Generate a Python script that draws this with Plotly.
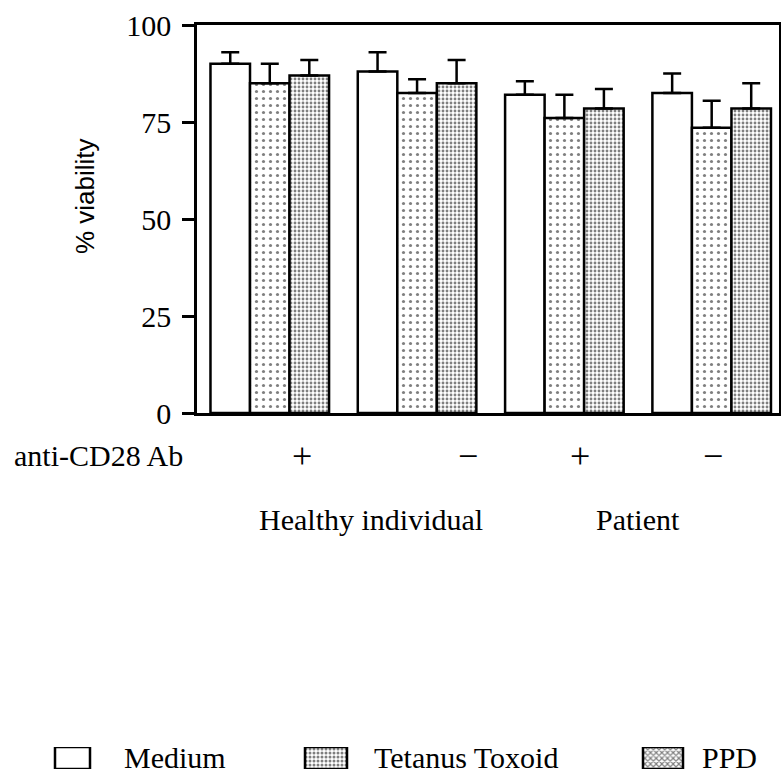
import plotly.graph_objects as go

# Cell viability (% of cells) per culture condition
groups = ["Healthy +", "Healthy −", "Patient +", "Patient −"]
medium = [90, 88, 82, 82.5]
medium_err = [3, 5, 3.5, 5]
tetanus = [85, 82.5, 76, 73.5]
tetanus_err = [5, 3.5, 6, 7]
ppd = [87, 85, 78.5, 78.5]
ppd_err = [4, 6, 5, 6.5]

series_names = ["Medium", "Tetanus Toxoid", "PPD"]
y_ticks = [0, 25, 50, 75, 100]
antibody_marks = ["+", "−", "+", "−"]
subject_labels = ["Healthy individual", "Patient"]

W, H = 781, 777
SERIF = "Liberation Serif, Times New Roman, serif"
SANS = "Liberation Sans, Arial, sans-serif"

# plot frame in pixels
PL, PR, PT, PB = 197, 779, 25, 413


def px_x(p):
    return p / W


def px_y(p):
    return 1 - p / H


def bar_style(kind, legend=False):
    line = dict(color="black", width=2.5)
    if kind == 0:
        return dict(color="white", line=line)
    if kind == 1:
        pat = dict(shape=".", size=7, solidity=0.16) if not legend else \
            dict(shape=".", size=4, solidity=0.45)
    else:
        pat = dict(shape=".", size=4, solidity=0.4) if not legend else \
            dict(shape="x", size=4, solidity=0.5)
    pat.update(fgcolor="black", bgcolor="white", fillmode="overlay")
    return dict(color="white", line=line, pattern=pat)


fig = go.Figure()
for k, (vals, errs, name) in enumerate(zip([medium, tetanus, ppd],
                                           [medium_err, tetanus_err, ppd_err],
                                           series_names)):
    fig.add_trace(go.Bar(
        x=groups, y=vals, name=name, showlegend=False,
        marker=bar_style(k),
        error_y=dict(type="data", array=errs, symmetric=False, arrayminus=[0] * len(errs),
                     color="black", thickness=2.5, width=9),
    ))

# legend swatches drawn as small bars on a helper axis
legend_x = [72.5, 326, 663]
legend_w = [35, 42, 40]
for k, name in enumerate(series_names):
    fig.add_trace(go.Bar(
        x=[legend_x[k]], y=[1], width=[legend_w[k]], showlegend=False,
        marker=bar_style(k, legend=True), xaxis="x2", yaxis="y2", hoverinfo="skip",
    ))

fig.update_layout(
    width=W, height=H,
    margin=dict(l=0, r=0, t=0, b=0, autoexpand=False),
    paper_bgcolor="white", plot_bgcolor="white",
    barmode="group", bargap=0.195, bargroupgap=0,
    xaxis=dict(domain=[px_x(PL), px_x(PR)], range=[-0.494, 3.457], automargin=False,
               showticklabels=False, ticks="", showgrid=False, zeroline=False,
               showline=True, linecolor="black", linewidth=2.5, mirror=True),
    yaxis=dict(domain=[px_y(PB), px_y(PT)], range=[0, 100], automargin=False,
               tickvals=y_ticks, ticktext=[str(v) for v in y_ticks],
               ticks="outside", ticklen=12, tickwidth=2.5, tickcolor="black",
               ticklabelstandoff=5,
               tickfont=dict(family=SERIF, size=30, color="black"),
               showgrid=False, zeroline=False,
               showline=True, linecolor="black", linewidth=2.5, mirror=True),
    xaxis2=dict(domain=[0, 1], range=[0, W], visible=False, anchor="y2", automargin=False),
    yaxis2=dict(domain=[px_y(769), px_y(747)], range=[0, 1], visible=False, anchor="x2",
                automargin=False),
)

ann = []
ann.append(dict(text="% viability", x=px_x(85), y=px_y(196), xref="paper", yref="paper",
                textangle=-90, showarrow=False, xanchor="center", yanchor="middle",
                font=dict(family=SANS, size=26, color="black")))
ann.append(dict(text="anti-CD28 Ab", x=px_x(12), y=px_y(455), xref="paper", yref="paper",
                showarrow=False, xanchor="left", yanchor="middle",
                font=dict(family=SERIF, size=30, color="black")))
for mark, xp in zip(antibody_marks, [302, 468, 580, 713]):
    ann.append(dict(text=mark, x=px_x(xp), y=px_y(456), xref="paper", yref="paper",
                    showarrow=False, xanchor="center", yanchor="middle",
                    font=dict(family=SERIF, size=36, color="black")))
for lab, xp in zip(subject_labels, [371, 638]):
    ann.append(dict(text=lab, x=px_x(xp), y=px_y(519), xref="paper", yref="paper",
                    showarrow=False, xanchor="center", yanchor="middle",
                    font=dict(family=SERIF, size=30, color="black")))
for name, xp in zip(series_names, [122, 372, 700]):
    ann.append(dict(text=name, x=px_x(xp), y=px_y(757), xref="paper", yref="paper",
                    showarrow=False, xanchor="left", yanchor="middle",
                    font=dict(family=SERIF, size=30, color="black")))
fig.update_layout(annotations=ann)

fig.write_html("out.html")
